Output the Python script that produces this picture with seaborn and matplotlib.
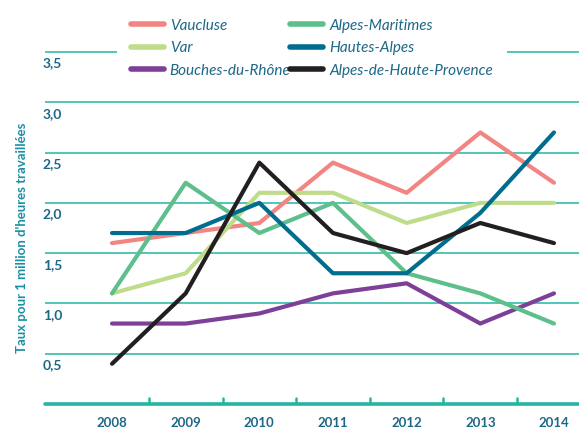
import numpy as np
import pandas as pd
import matplotlib
matplotlib.use("Agg")
import matplotlib.pyplot as plt
import matplotlib.transforms as mtransforms
import seaborn as sns

# Données
years = [2008, 2009, 2010, 2011, 2012, 2013, 2014]
vaucluse = [1.6, 1.7, 1.8, 2.4, 2.1, 2.7, 2.2]
var = [1.1, 1.3, 2.1, 2.1, 1.8, 2.0, 2.0]
bouches_du_rhone = [0.8, 0.8, 0.9, 1.1, 1.2, 0.8, 1.1]
alpes_maritimes = [1.1, 2.2, 1.7, 2.0, 1.3, 1.1, 0.8]
hautes_alpes = [1.7, 1.7, 2.0, 1.3, 1.3, 1.9, 2.7]
alpes_haute_provence = [0.4, 1.1, 2.4, 1.7, 1.5, 1.8, 1.6]

departements = ["Vaucluse", "Var", "Bouches-du-Rhône",
                "Alpes-Maritimes", "Hautes-Alpes", "Alpes-de-Haute-Provence"]
series = [vaucluse, var, bouches_du_rhone, alpes_maritimes, hautes_alpes, alpes_haute_provence]
couleurs = ["#f28482", "#bfdc8a", "#7d3f98", "#5dbf8b", "#006d8f", "#231f20"]
y_ticks = [0.5, 1.0, 1.5, 2.0, 2.5, 3.0, 3.5]

df = pd.DataFrame({
    "annee": np.tile(years, len(departements)),
    "taux": np.concatenate(series),
    "departement": np.repeat(departements, len(years)),
})

teal = "#22b5a3"
txt = "#1d6887"
font = ["Lato", "DejaVu Sans"]

sns.set_style("white")
plt.rcParams["font.family"] = font

fig = plt.figure(figsize=(5.79, 4.28), dpi=100)
ax = fig.add_axes([45 / 579, 24 / 428, 1 - 45 / 579, 404 / 428])

sns.lineplot(data=df, x="annee", y="taux", hue="departement",
             hue_order=departements, palette=couleurs, linewidth=3.0,
             ax=ax, legend=False)

ax.set_xlim(2007.09, 2014.34)
ax.set_ylim(0, 404 / 100.57)

# grille horizontale
for v in y_ticks:
    ax.axhline(v, color=teal, lw=1.1, zorder=0)
ax.axhline(0, color=teal, lw=2.6, zorder=0, clip_on=False)

# petits traits entre les années
for x in years[:-1]:
    ax.plot([x + 0.5, x + 0.5], [0, 0.06], color=teal, lw=1.8, zorder=0)

for s in ax.spines.values():
    s.set_visible(False)
ax.set_xticks([])
ax.set_yticks([])
ax.set_xlabel("")
ax.set_ylabel("")

# étiquettes de l'axe y (sous chaque ligne de grille)
trans_y = mtransforms.blended_transform_factory(ax.transAxes, ax.transData)
for v in y_ticks:
    ax.text(-0.004, v - 0.055, f"{v:.1f}".replace(".", ","), transform=trans_y,
            ha="left", va="top", fontsize=10, fontweight="bold", color=txt)

# années
for x in years:
    ax.text(x, -0.19, str(x), ha="center", va="center", fontsize=9.5,
            fontweight="bold", color=txt, clip_on=False)

fig.text(22 / 579, 1 - 238 / 428, "Taux pour 1 million d'heures travaillées",
         rotation=90, ha="center", va="center", fontsize=9.5,
         fontweight="bold", color="#1b8fa3")

handles = [plt.Line2D([], [], color=c, lw=4, solid_capstyle="round") for c in couleurs]
leg = fig.legend(handles, departements, ncol=2, loc="upper left",
                 bbox_to_anchor=(117 / 579, 1 - 5 / 428), frameon=True,
                 facecolor="white", edgecolor="none", framealpha=1,
                 handlelength=2.15, handletextpad=0.4, columnspacing=0.0,
                 labelspacing=0.55, borderpad=0.9, borderaxespad=0,
                 prop={"family": font, "style": "italic", "size": 11})
for t in leg.get_texts():
    t.set_color(txt)

fig.savefig("out.png", dpi=100)
